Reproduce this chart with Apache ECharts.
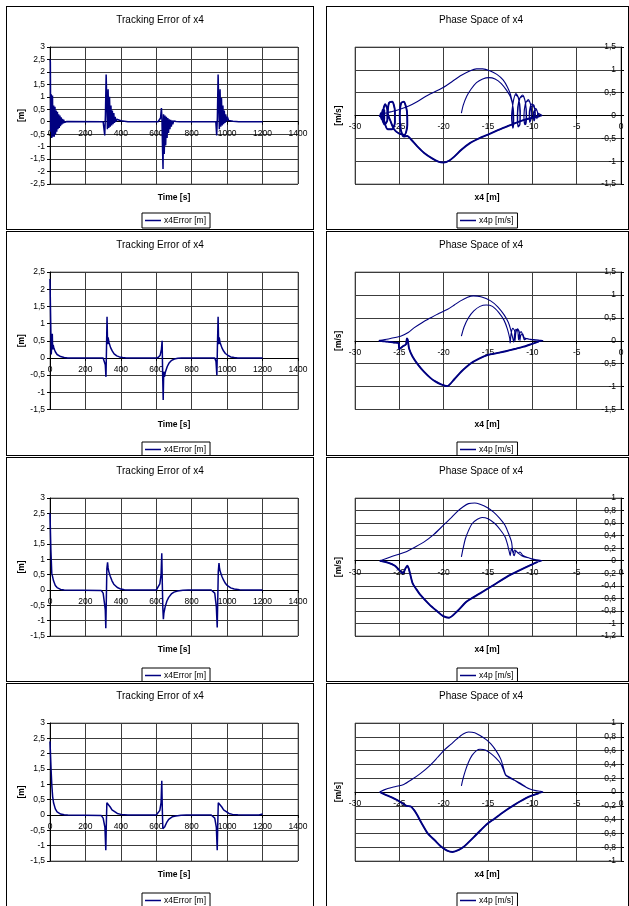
<!DOCTYPE html>
<html lang="en">
<head>
<meta charset="UTF-8">
<title>Tracking Error / Phase Space of x4</title>
<script src="https://cdn.jsdelivr.net/npm/echarts@6/dist/echarts.min.js"></script>
<style>
  body { margin: 0; background: #fff; width: 629px; height: 906px; overflow: hidden; position: relative; }
  .panel { position: absolute; border: 1px solid #000; box-sizing: border-box; background: #fff; }
</style>
</head>
<body>
<div class="panel" id="e1" style="left:6px;top:6px;width:308px;height:224px"></div>
<div class="panel" id="p1" style="left:326px;top:6px;width:303px;height:224px"></div>
<div class="panel" id="e2" style="left:6px;top:231px;width:308px;height:225px"></div>
<div class="panel" id="p2" style="left:326px;top:231px;width:303px;height:225px"></div>
<div class="panel" id="e3" style="left:6px;top:457px;width:308px;height:225px"></div>
<div class="panel" id="p3" style="left:326px;top:457px;width:303px;height:225px"></div>
<div class="panel" id="e4" style="left:6px;top:683px;width:308px;height:226px"></div>
<div class="panel" id="p4" style="left:326px;top:683px;width:303px;height:226px"></div>
<script>
// ---- tracking error [time s, error m] ----
var err1 = [[0,2.5],[2,2.4],[4,-0.4],[7,1.1],[10,-0.65],[14,1.05],[17,-0.6],[21,0.65],[24,-0.6],[28,0.6],[31,-0.5],[35,0.45],[38,-0.4],[42,0.4],[45,-0.3],[49,0.3],[52,-0.25],[56,0.25],[59,-0.18],[63,0.18],[66,-0.12],[70,0.12],[73,-0.08],[77,0.08],[81,-0.03],[85,0.04],[90,0],[95,0.01],[100,0],
  [300,0],[305,-0.05],[309,-0.55],[313,0.3],[317,1.9],[320,1.85],[324,-0.3],[328,1.3],[332,-0.25],[336,1.0],[340,-0.2],[344,0.65],[348,-0.15],[352,0.45],[356,-0.1],[360,0.35],[364,-0.05],[368,0.2],[372,0],[377,0.1],[385,0.05],[400,0.04],[420,0.02],[440,0],
  [610,0],[618,0.05],[624,0.15],[629,0.55],[632,0.1],[635,-1.0],[638,-1.9],[641,0.3],[645,-1.3],[649,0.25],[653,-0.95],[657,0.2],[661,-0.65],[665,0.15],[669,-0.45],[673,0.1],[677,-0.3],[681,0.08],[685,-0.2],[689,0.05],[693,-0.1],[698,0.03],[704,-0.05],[712,0.01],[722,-0.01],[732,0],
  [936,0],[941,-0.55],[945,0.2],[949,1.9],[952,1.85],[956,-0.3],[960,1.3],[964,-0.2],[968,0.95],[972,-0.15],[976,0.65],[980,-0.1],[984,0.45],[988,-0.05],[992,0.3],[996,0],[1001,0.2],[1008,0.05],[1018,0.06],[1033,0.02],[1050,0.01],[1065,0],[1200,0]];
var err2 = [[0,2.3],[4,2.25],[7,0.1],[13,0.7],[15,0.25],[18,0.38],[22,0.28],[30,0.18],[40,0.1],[50,0.06],[60,0.04],[80,0.01],[100,0],
  [300,0],[306,-0.05],[312,-0.2],[316,-0.55],[319,0.3],[322,1.2],[325,0.4],[328,0.6],[333,0.45],[342,0.3],[352,0.2],[362,0.12],[377,0.06],[392,0.03],[410,0.01],[430,0],
  [600,0],[612,0.02],[622,0.08],[629,0.25],[633,0.5],[636,-0.5],[639,-1.22],[642,-0.4],[646,-0.55],[652,-0.4],[662,-0.25],[672,-0.15],[687,-0.07],[702,-0.03],[722,-0.01],[742,0],
  [930,0],[937,-0.1],[942,-0.5],[945,0.3],[949,1.2],[952,0.4],[955,0.6],[960,0.45],[970,0.3],[980,0.2],[990,0.13],[1005,0.07],[1020,0.03],[1040,0.01],[1060,0],[1200,0]];
var err3 = [[0,2.5],[3,2.45],[5,1.3],[8,1.25],[10,0.55],[13,0.5],[20,0.3],[30,0.15],[40,0.08],[60,0.02],[80,0],
  [290,-0.02],[300,-0.1],[309,-0.5],[312,-0.65],[315,-1.25],[318,-0.3],[321,0.7],[325,0.9],[328,0.72],[332,0.6],[340,0.45],[350,0.3],[360,0.19],[380,0.08],[400,0.03],[420,0.01],[440,0],
  [600,0],[610,0.05],[620,0.2],[627,0.5],[631,1.2],[634,0.2],[637,-0.6],[640,-0.95],[643,-0.75],[650,-0.55],[660,-0.36],[670,-0.24],[685,-0.13],[700,-0.07],[720,-0.03],[750,-0.01],[780,0],
  [910,0],[920,-0.02],[930,-0.1],[939,-0.55],[944,-1.22],[947,-0.3],[950,0.6],[954,0.88],[957,0.7],[961,0.6],[970,0.45],[980,0.32],[990,0.22],[1000,0.15],[1020,0.07],[1040,0.03],[1070,0.01],[1100,0],[1200,0]];
var err4 = [[0,2.4],[3,2.35],[6,1.5],[10,1.0],[15,0.6],[20,0.4],[30,0.2],[40,0.1],[60,0.03],[80,0.01],[100,0],
  [290,-0.02],[300,-0.1],[310,-0.4],[315,-1.15],[318,-0.3],[321,0.4],[324,0.45],[332,0.35],[340,0.26],[350,0.17],[360,0.11],[380,0.05],[400,0.02],[420,0.01],[440,0],
  [600,0],[610,0.03],[620,0.15],[627,0.4],[631,1.12],[634,0.2],[637,-0.45],[640,-0.5],[648,-0.38],[660,-0.23],[670,-0.14],[690,-0.06],[710,-0.03],[740,-0.01],[770,0],
  [910,0],[920,-0.02],[930,-0.1],[939,-0.4],[944,-1.15],[947,-0.3],[950,0.4],[954,0.45],[961,0.35],[970,0.26],[980,0.17],[990,0.11],[1010,0.05],[1030,0.02],[1060,0.01],[1100,0],[1180,0],[1190,0.03],[1200,0.03]];

// ---- phase space [x4 m, x4p m/s]: first move, lower arc (leftwards), upper arc (rightwards) ----
var ph1Inner = [[-18,0.05],[-17.8,0.22],[-17.4,0.42],[-16.9,0.58],[-16.3,0.72],[-15.6,0.8],[-14.9,0.83],[-14.2,0.8],[-13.5,0.7],[-12.9,0.55],[-12.45,0.4],[-12.15,0.15],[-12.1,-0.1],[-12.15,-0.27],[-12.3,-0.1],[-12.2,0.25],[-11.9,0.45],[-11.6,0.4],[-11.35,0.1],[-11.4,-0.2],[-11.6,-0.25],[-11.7,0],[-11.5,0.35],[-11.1,0.45],[-10.8,0.3],[-10.65,0],[-10.75,-0.2],[-10.95,-0.1],[-10.8,0.25],[-10.45,0.35],[-10.15,0.2],[-10.1,-0.05],[-10.3,-0.15],[-10.35,0.05],[-10.1,0.25],[-9.8,0.22],[-9.65,0],[-9.8,-0.12],[-9.9,0.05],[-9.6,0.15],[-9.4,0.05],[-9.5,-0.08],[-9.3,0.05],[-9.1,0.02],[-8.9,0]];
var ph1Lower = [[-9.2,-0.02],[-10,-0.05],[-11,-0.1],[-12,-0.17],[-13,-0.25],[-14,-0.33],[-15,-0.42],[-16,-0.5],[-17,-0.6],[-18,-0.75],[-18.8,-0.9],[-19.4,-0.99],[-20,-1.03],[-20.6,-1.01],[-21.3,-0.94],[-22.2,-0.82],[-23,-0.67],[-23.7,-0.52],[-24.1,-0.45],[-24.5,-0.46],[-24.85,-0.3],[-24.95,0],[-24.8,0.27],[-24.5,0.3],[-24.15,0.1],[-24.1,-0.2],[-24.4,-0.42],[-25,-0.4],[-25.6,-0.3],[-26,-0.12],[-26.3,0.05],[-26.15,0.28],[-25.8,0.3],[-25.5,0.1],[-25.5,-0.15],[-25.8,-0.3],[-26.3,-0.3],[-26.7,-0.12],[-26.8,0.12],[-26.6,0.25],[-26.35,0.12],[-26.35,-0.1],[-26.65,-0.2],[-26.95,-0.05],[-26.9,0.12],[-26.7,0.12],[-26.7,-0.08],[-27,-0.08],[-27.1,0.05],[-26.95,0.05],[-27.1,-0.03],[-27.25,0]];
var ph1Upper = [[-27,0.03],[-26,0.08],[-25,0.13],[-24,0.2],[-23,0.3],[-22,0.42],[-21,0.52],[-20,0.62],[-19,0.75],[-18,0.88],[-17,0.98],[-16.3,1.02],[-15.6,1.02],[-14.8,0.98],[-14,0.9],[-13.3,0.78],[-12.8,0.62],[-12.45,0.45],[-12.2,0.2],[-12.15,-0.12],[-12.2,-0.28],[-12.35,-0.05],[-12.15,0.3],[-11.85,0.48],[-11.55,0.38],[-11.4,0.05],[-11.45,-0.22],[-11.65,-0.2],[-11.65,0.05],[-11.4,0.38],[-11.05,0.42],[-10.75,0.25],[-10.7,-0.05],[-10.85,-0.2],[-10.95,0],[-10.7,0.3],[-10.4,0.32],[-10.1,0.15],[-10.15,-0.08],[-10.35,-0.1],[-10.25,0.12],[-9.95,0.22],[-9.7,0.1],[-9.75,-0.08],[-9.85,0.05],[-9.55,0.12],[-9.35,0.02],[-9.45,-0.05],[-9.2,0.03],[-8.9,0]];

var ph2Inner = [[-18,0.1],[-17.7,0.3],[-17.2,0.5],[-16.6,0.65],[-15.9,0.75],[-15.2,0.78],[-14.5,0.75],[-13.8,0.62],[-13.2,0.45],[-12.8,0.25],[-12.55,0.05],[-12.5,-0.05],[-12.4,0.15],[-12.2,0.27],[-12,0.22],[-11.95,0],[-11.85,0.18],[-11.65,0.26],[-11.45,0.18],[-11.4,0],[-11.3,0.12],[-11.1,0.15],[-10.9,0.06],[-10.5,0.04],[-10.1,0.03],[-9.6,0.02],[-9.2,0.01],[-8.8,0]];
var ph2Lower = [[-9.3,-0.02],[-10.2,-0.08],[-11,-0.13],[-12,-0.18],[-13,-0.23],[-14,-0.27],[-15,-0.31],[-16,-0.39],[-17,-0.5],[-18,-0.67],[-18.8,-0.84],[-19.6,-0.99],[-20.3,-0.95],[-21,-0.88],[-21.5,-0.81],[-22.2,-0.68],[-22.9,-0.52],[-23.5,-0.35],[-23.9,-0.17],[-24.05,0.02],[-24.15,0.05],[-24.25,-0.08],[-24.6,-0.12],[-25,-0.18],[-25.1,-0.05],[-25.6,-0.04],[-26.3,-0.02],[-26.8,-0.01],[-27.3,0]];
var ph2Upper = [[-27.1,0.01],[-26,0.05],[-24.85,0.1],[-24,0.18],[-23.35,0.28],[-22.4,0.4],[-21.47,0.5],[-20.5,0.6],[-19.6,0.68],[-18.8,0.78],[-18.1,0.87],[-17.3,0.95],[-16.65,0.98],[-15.8,0.96],[-14.7,0.87],[-13.9,0.74],[-13.2,0.57],[-12.7,0.4],[-12.45,0.25],[-12.2,0.05],[-12.1,-0.03],[-12,0.15],[-11.85,0.25],[-11.65,0.22],[-11.55,0.02],[-11.45,0.15],[-11.25,0.2],[-11.05,0.1],[-10.9,0.02],[-10.6,0.05],[-10.1,0.02],[-9.5,0.01],[-8.8,0]];

var ph3Inner = [[-18,0.06],[-17.8,0.2],[-17.55,0.35],[-17.2,0.48],[-16.8,0.59],[-16.2,0.66],[-15.67,0.69],[-15,0.67],[-14.2,0.59],[-13.6,0.49],[-13.07,0.38],[-12.8,0.26],[-12.6,0.14],[-12.5,0.08],[-12.35,0.2],[-12.15,0.12],[-12,0.17],[-11.8,0.15],[-11.6,0.12],[-11.2,0.08],[-10.6,0.05],[-10,0.03],[-9.4,0.01],[-8.9,0]];
var ph3Lower = [[-9.4,-0.02],[-10.2,-0.07],[-11.4,-0.15],[-12.8,-0.25],[-14.4,-0.39],[-15.9,-0.52],[-17.4,-0.65],[-18.5,-0.81],[-19.4,-0.91],[-20.1,-0.88],[-20.7,-0.81],[-21.6,-0.7],[-22.6,-0.55],[-23.1,-0.45],[-23.5,-0.36],[-23.8,-0.2],[-23.95,-0.12],[-24.1,-0.08],[-24.3,-0.12],[-24.6,-0.2],[-25,-0.15],[-25.5,-0.08],[-26.3,-0.03],[-27.2,0]];
var ph3Upper = [[-27.2,0.01],[-26,0.06],[-24.3,0.14],[-23.2,0.22],[-22.2,0.3],[-21.1,0.42],[-20,0.57],[-19.2,0.68],[-18.5,0.78],[-17.8,0.86],[-17.2,0.91],[-16.5,0.92],[-15.9,0.9],[-15.1,0.85],[-14.4,0.78],[-13.7,0.68],[-13.1,0.57],[-12.7,0.44],[-12.35,0.3],[-12.2,0.14],[-12.05,0.08],[-11.85,0.16],[-11.6,0.12],[-11.4,0.14],[-11.1,0.09],[-10.5,0.05],[-9.9,0.02],[-9.3,0.01],[-8.9,0]];

var ph4Inner = [[-18,0.09],[-17.8,0.2],[-17.55,0.31],[-17.2,0.43],[-16.8,0.53],[-16.3,0.6],[-15.9,0.62],[-15.3,0.61],[-14.7,0.56],[-14.1,0.49],[-13.57,0.41],[-13.25,0.32],[-13,0.24],[-12.5,0.2],[-12,0.17],[-11.4,0.12],[-10.7,0.07],[-10.2,0.04],[-9.6,0.02],[-9.1,0.01],[-8.8,0]];
var ph4Lower = [[-9.3,-0.02],[-10,-0.05],[-10.6,-0.08],[-11.3,-0.13],[-12.07,-0.19],[-12.8,-0.25],[-13.57,-0.32],[-14.3,-0.39],[-15.07,-0.46],[-15.8,-0.55],[-16.57,-0.65],[-17.2,-0.73],[-17.7,-0.79],[-18.3,-0.84],[-19,-0.87],[-19.6,-0.85],[-20.3,-0.79],[-21,-0.7],[-21.8,-0.6],[-22.5,-0.45],[-23,-0.33],[-23.35,-0.26],[-23.7,-0.21],[-24.2,-0.2],[-24.7,-0.16],[-25.2,-0.12],[-25.8,-0.08],[-26.4,-0.05],[-26.9,-0.02],[-27.2,0]];
var ph4Upper = [[-27.2,0.01],[-26.3,0.05],[-25.4,0.08],[-24.5,0.11],[-23.6,0.18],[-22.6,0.27],[-21.5,0.39],[-20.7,0.5],[-20,0.6],[-19.2,0.69],[-18.5,0.77],[-17.8,0.84],[-17.2,0.87],[-16.5,0.86],[-15.9,0.82],[-15.2,0.76],[-14.7,0.7],[-14.1,0.6],[-13.57,0.48],[-13.25,0.35],[-13,0.25],[-12.5,0.21],[-12,0.17],[-11.4,0.13],[-10.7,0.07],[-10.2,0.04],[-9.6,0.02],[-9.1,0.01],[-8.8,0]];

// axis ranges [min, max, interval]
var errYRanges = [[-2.5, 3, 0.5], [-1.5, 2.5, 0.5], [-1.5, 3, 0.5], [-1.5, 3, 0.5]];
var phYRanges = [[-1.5, 1.5, 0.5], [-1.5, 1.5, 0.5], [-1.2, 1, 0.2], [-1, 1, 0.2]];

var FONT = "'Liberation Sans', Arial, Helvetica, sans-serif";
var NAVY = '#000080';

// per-row layout, relative to panel content box
var rows = [
  { title: 8, grid: 40, h: 137, xname: 191, legend: 206 },
  { title: 8, grid: 40, h: 137.5, xname: 193, legend: 210 },
  { title: 8, grid: 40, h: 138, xname: 192, legend: 210 },
  { title: 7, grid: 39, h: 138, xname: 191, legend: 209 }
];

function fmt(v) {
  return String(Math.round(v * 10) / 10).replace('.', ',');
}

function valueAxis(r, labelMargin) {
  return {
    type: 'value', min: r[0], max: r[1], interval: r[2],
    axisLine: { show: true, onZero: false, lineStyle: { color: '#000', width: 1 } },
    axisTick: { show: true, length: 3, lineStyle: { color: '#000' } },
    axisLabel: { fontSize: 8.5, color: '#000', fontFamily: FONT, margin: labelMargin, formatter: fmt },
    splitLine: { show: true, lineStyle: { color: '#3c3c3c', width: 1 } }
  };
}

// x axis crosses at y = 0: shift it up from the bottom edge
function xAxisAtZero(xr, yr, h) {
  var ax = valueAxis(xr, 7);
  ax.position = 'bottom';
  ax.offset = -h * (0 - yr[0]) / (yr[1] - yr[0]);
  return ax;
}

function label(text, x, y, rotate) {
  return {
    type: 'text', x: x, y: y, rotation: rotate ? Math.PI / 2 : 0,
    style: {
      text: text, fontSize: 8.5, fontWeight: 'bold', fontFamily: FONT, fill: '#000',
      align: 'center', verticalAlign: 'middle', textAlign: 'center', textVerticalAlign: 'middle'
    }
  };
}

function common(row, titleText, titleX, gridLeft, gridWidth, legendLeft) {
  return {
    animation: false,
    title: {
      text: titleText, left: titleX, textAlign: 'center', top: row.title, padding: 0,
      textStyle: { fontSize: 10, fontWeight: 'normal', color: '#000', fontFamily: FONT }
    },
    grid: {
      left: gridLeft, top: row.grid, width: gridWidth, height: row.h,
      show: true, borderColor: '#808080', borderWidth: 1, backgroundColor: '#fff',
      containLabel: false, outerBoundsMode: 'none'
    },
    legend: {
      left: legendLeft, top: row.legend, orient: 'horizontal',
      borderColor: '#000', borderWidth: 1, padding: [3, 4, 3, 3],
      icon: 'rect', itemWidth: 16, itemHeight: 1.5, itemGap: 4,
      textStyle: { fontSize: 8.5, color: '#000', fontFamily: FONT, padding: [0, 0, 0, -2] }
    }
  };
}

function errorOption(data, i) {
  var row = rows[i];
  var o = common(row, 'Tracking Error of x4', 153, 43, 248, 135);
  o.xAxis = xAxisAtZero([0, 1400, 200], errYRanges[i], row.h);
  o.yAxis = valueAxis(errYRanges[i], 5);
  o.yAxis.position = 'left';
  o.legend.data = ['x4Error [m]'];
  o.graphic = [
    label('[m]', 15, row.grid + row.h / 2, true),
    label('Time [s]', 167, row.xname, false)
  ];
  o.series = [{
    name: 'x4Error [m]', type: 'line', data: data, showSymbol: false, symbol: 'none',
    lineStyle: { color: NAVY, width: 1.5 }, itemStyle: { color: NAVY }
  }];
  return o;
}

function phaseOption(inner, lower, upper, i) {
  var row = rows[i];
  var o = common(row, 'Phase Space of x4', 154, 28, 266, 130);
  o.xAxis = xAxisAtZero([-30, 0, 5], phYRanges[i], row.h);
  // y axis crosses at x = 0, the right edge; labels sit inside
  o.yAxis = valueAxis(phYRanges[i], 5);
  o.yAxis.position = 'right';
  o.yAxis.axisLabel.inside = true;
  o.legend.data = ['x4p [m/s]'];
  o.graphic = [
    label('[m/s]', 12, row.grid + row.h / 2, true),
    label('x4 [m]', 160, row.xname, false)
  ];
  o.series = [{
    name: 'x4p [m/s]', type: 'line', data: inner.concat(lower, upper),
    showSymbol: false, symbol: 'none', smooth: 0.25,
    lineStyle: { color: NAVY, width: 1.1 }, itemStyle: { color: NAVY }
  }, {
    // the leftward move is run twice, so it shows heavier
    name: 'x4p [m/s]', type: 'line', data: lower,
    showSymbol: false, symbol: 'none', smooth: 0.25,
    lineStyle: { color: NAVY, width: 1.9 }, itemStyle: { color: NAVY }
  }];
  return o;
}

var errs = [err1, err2, err3, err4];
var phases = [
  [ph1Inner, ph1Lower, ph1Upper],
  [ph2Inner, ph2Lower, ph2Upper],
  [ph3Inner, ph3Lower, ph3Upper],
  [ph4Inner, ph4Lower, ph4Upper]
];

for (var i = 0; i < 4; i++) {
  var ec = echarts.init(document.getElementById('e' + (i + 1)));
  ec.setOption(errorOption(errs[i], i));
  var pc = echarts.init(document.getElementById('p' + (i + 1)));
  pc.setOption(phaseOption(phases[i][0], phases[i][1], phases[i][2], i));
}
</script>
</body>
</html>
